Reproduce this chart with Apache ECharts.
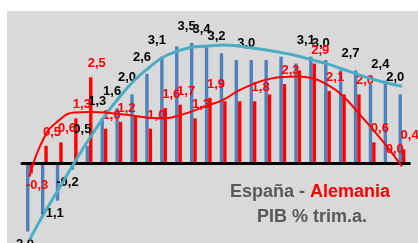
<!DOCTYPE html>
<html>
<head>
<meta charset="utf-8">
<script src="https://cdn.jsdelivr.net/npm/echarts@6/dist/echarts.min.js"></script>
<style>
  html, body { margin: 0; padding: 0; background: #fff; }
  #chart { width: 418px; height: 243px; }
</style>
</head>
<body>
<div id="chart"></div>
<script>
// trimestres (sin etiqueta en el eje)
var categories = ['1','2','3','4','5','6','7','8','9','10','11','12','13',
                  '14','15','16','17','18','19','20','21','22','23','24','25','26'];

// PIB % trim. anualizado
var spain   = [-2.0, -1.5, -1.1, -0.2, 0.5, 1.3, 1.6, 2.0, 2.6, 3.1, 3.4, 3.5, 3.4,
               3.2, 3.0, 3.0, 3.0, 3.1, 2.9, 3.1, 3.0, 2.7, 2.7, 2.3, 2.4, 2.0];
var germany = [-0.3, 0.5, 0.6, 1.3, 2.5, 1.0, 1.2, 1.4, 1.0, 1.6, 1.7, 1.3, 1.9,
               1.8, 1.8, 1.8, 2.0, 2.3, 2.7, 2.9, 2.1, 2.0, 2.0, 0.6, 0.0, 0.4];

// lineas de tendencia
var spainTrend   = [-2.24, -1.46, -0.73, 0.0, 0.70, 1.34, 1.90, 2.39, 2.77, 3.09, 3.27, 3.38, 3.41,
                    3.44, 3.41, 3.35, 3.29, 3.21, 3.12, 3.00, 2.89, 2.74, 2.59, 2.45, 2.33, 2.24];
var germanyTrend = [-0.40, 0.75, 1.25, 1.47, 1.49, 1.47, 1.43, 1.38, 1.32, 1.30, 1.38, 1.52, 1.68,
                    1.84, 2.10, 2.30, 2.44, 2.51, 2.52, 2.47, 2.28, 1.97, 1.50, 1.00, 0.48, -0.10];

// que barras llevan etiqueta
var spainLabelOn   = [1,0,1,1,1,1,1,1,1,1,0,1,1,1,0,1,0,0,0,1,1,0,1,0,1,1];
var germanyLabelOn = [1,1,1,1,1,1,1,0,1,1,1,1,1,0,0,1,0,1,0,1,1,0,1,1,1,1];

function fmt(v) {
    return v.toFixed(1).replace('.', ',');
}

function barData(values, labelOn, color, dx, dist) {
    var out = [];
    for (var i = 0; i < values.length; i++) {
        var v = values[i];
        out.push({
            value: v,
            label: {
                show: labelOn[i] == 1,
                position: v < 0 ? 'bottom' : 'top',
                distance: v < 0 ? 6 : dist,
                offset: [dx, 0],
                color: color,
                formatter: fmt(v)
            }
        });
    }
    return out;
}

var labelFont = {
    fontFamily: 'Liberation Sans, Arial, sans-serif',
    fontWeight: 'bold',
    fontSize: 13
};
var titleFont = 'Liberation Sans, Arial, sans-serif';

var myChart = echarts.init(document.getElementById('chart'));
var option = {
    animation: false,
    backgroundColor: '#fff',
    grid: {
        left: 22,
        width: 387.4,
        top: 8.65,
        height: 229.8,   // 4.5 .. -2.2, cero en y=163
        outerBoundsMode: 'none'
    },
    graphic: [
        // fondo gris del area
        { type: 'rect', z: -10, shape: { x: 7, y: 11, width: 411, height: 232 },
          style: { fill: '#d9d9d9' } },
        { type: 'text', left: 230, top: 183, z: 10,
          style: { text: '{g|España - }{r|Alemania}',
                   rich: {
                       g: { fill: '#595959', fontSize: 18, fontWeight: 'bold', fontFamily: titleFont },
                       r: { fill: '#ff0000', fontSize: 18, fontWeight: 'bold', fontFamily: titleFont }
                   } } },
        { type: 'text', left: 257, top: 208, z: 10,
          style: { text: 'PIB % trim.a.', fill: '#595959', fontSize: 18, fontWeight: 'bold',
                   fontFamily: titleFont } }
    ],
    xAxis: {
        type: 'category',
        data: categories,
        axisLine: { onZero: true, lineStyle: { color: '#000', width: 3 } },
        axisTick: { show: false },
        axisLabel: { show: false },
        z: 5
    },
    yAxis: {
        type: 'value',
        min: -2.2,
        max: 4.5,
        show: false,
        splitLine: { show: false }
    },
    series: [
        {
            name: 'España',
            type: 'bar',
            barWidth: 3.4,
            barGap: '0%',
            itemStyle: { color: '#4f81bd' },
            label: labelFont,
            data: barData(spain, spainLabelOn, '#000', -5, 10)
        },
        {
            name: 'Alemania',
            type: 'bar',
            barWidth: 3.4,
            barGap: '0%',
            itemStyle: { color: '#ff0000' },
            label: labelFont,
            data: barData(germany, germanyLabelOn, '#ff0000', 6, 7)
        },
        {
            name: 'Tendencia España',
            type: 'line',
            smooth: true,
            symbol: 'none',
            clip: false,
            z: 6,
            lineStyle: { color: '#4bacc6', width: 3 },
            data: spainTrend
        },
        {
            name: 'Tendencia Alemania',
            type: 'line',
            smooth: true,
            symbol: 'none',
            clip: false,
            z: 6,
            lineStyle: { color: '#ff0000', width: 2 },
            data: germanyTrend
        }
    ]
};
myChart.setOption(option);
</script>
</body>
</html>
